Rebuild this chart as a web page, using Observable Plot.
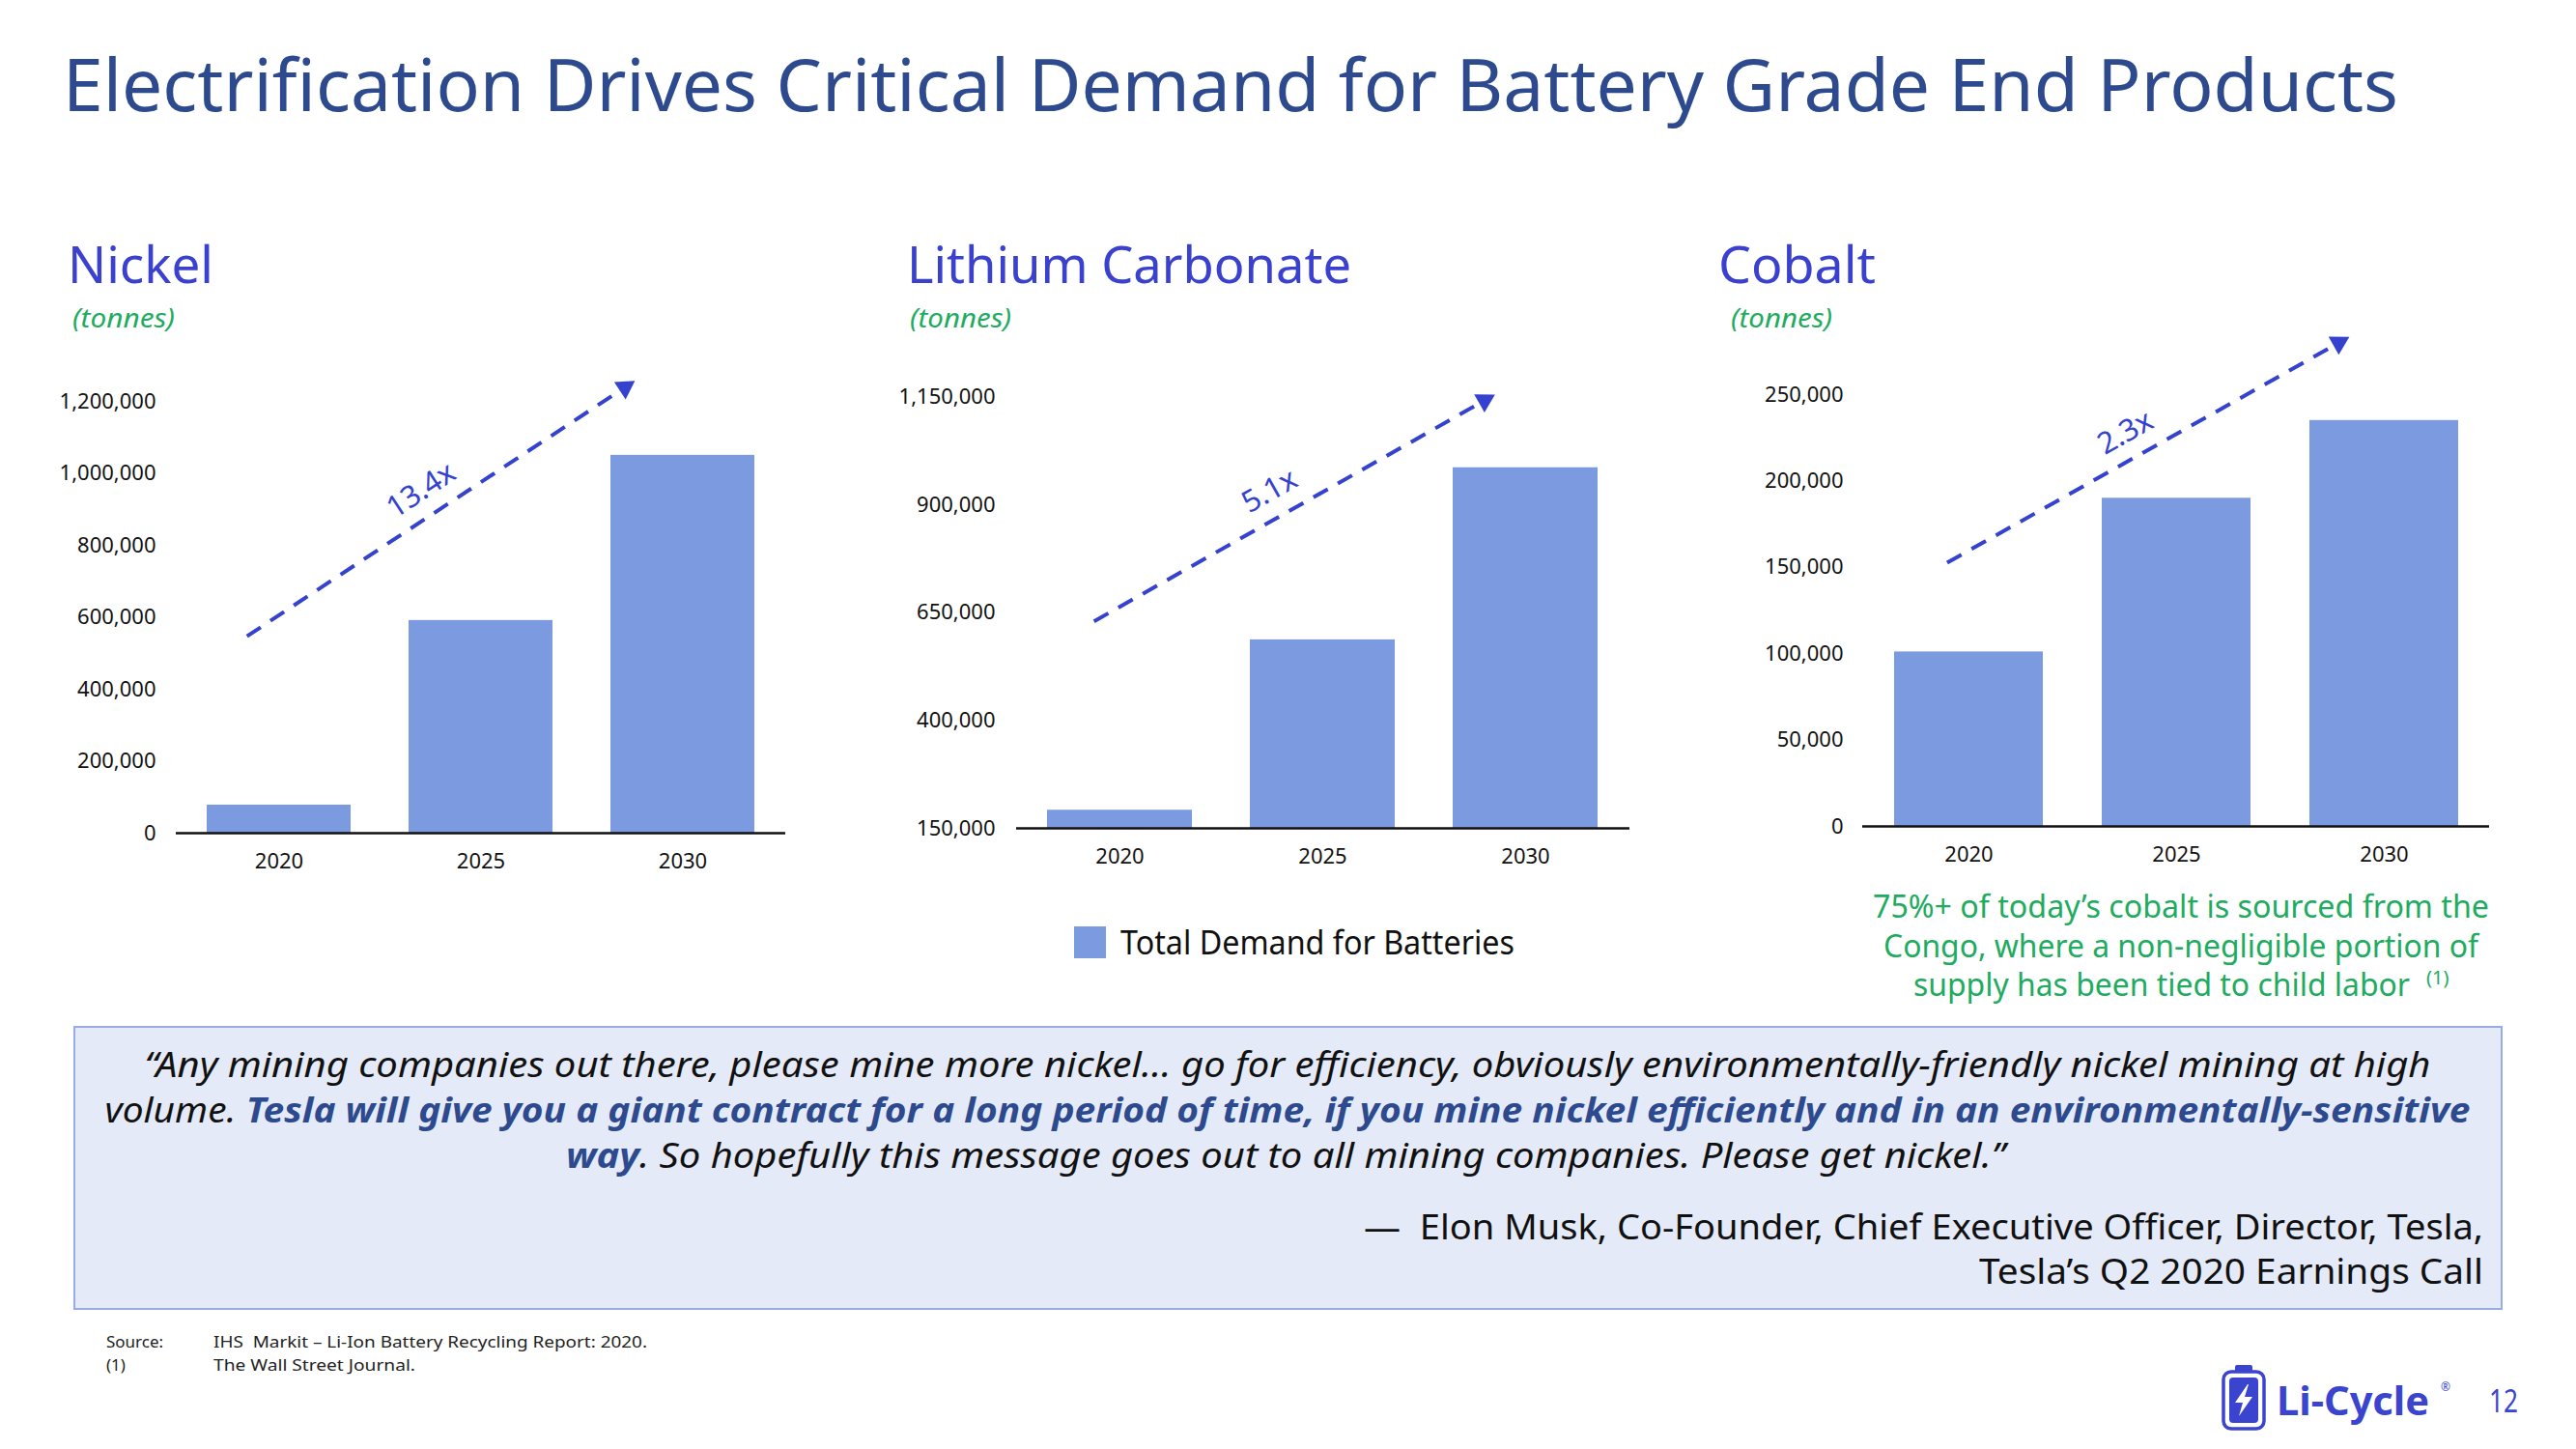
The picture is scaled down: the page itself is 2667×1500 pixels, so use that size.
<!DOCTYPE html>
<html>
<head>
<meta charset="utf-8">
<script src="https://cdn.jsdelivr.net/npm/d3@7"></script>
<script src="https://cdn.jsdelivr.net/npm/@observablehq/plot@0.6"></script>
<style>
  html, body { margin: 0; padding: 0; background: #fff; }
  #slide { position: relative; width: 2667px; height: 1500px; overflow: hidden; background: #fff; font-family: "Noto Sans", sans-serif; }
  #slide svg.bg { position: absolute; left: 0; top: 0; }
  .chart { position: absolute; }
  .chart svg { overflow: visible; }
</style>
</head>
<body>
<div id="slide"></div>
<script>
// ---------------- data ----------------
const years = ["2020", "2025", "2030"];
const nickelDemand = [78000, 591000, 1050000];
const lithiumDemand = [192000, 587000, 986000];
const cobaltDemand = [101000, 190000, 235000];

const nickelTicks = [0, 200000, 400000, 600000, 800000, 1000000, 1200000];
const lithiumTicks = [150000, 400000, 650000, 900000, 1150000];
const cobaltTicks = [0, 50000, 100000, 150000, 200000, 250000];

const growthLabels = ["13.4x", "5.1x", "2.3x"];
// dashed trend arrow: value at 2020 end, value at 2030 end, value of the label (at 2025)
const trendStart = [500000, 610000, 145000];
const trendEnd = [1239000, 1142000, 280000];
const labelValue = [953000, 932000, 228000];

const panelTitles = ["Nickel", "Lithium Carbonate", "Cobalt"];
const unitLabel = "(tonnes)";
const legendLabel = "Total Demand for Batteries";

// ---------------- colours ----------------
const barColor = "#7B9AE0";
const arrowColor = "#3442CF";
const titleColor = "#2D4A8E";
const panelColor = "#3B41CF";
const green = "#20AB5F";

const slide = d3.select("#slide");

// ---------------- charts ----------------
const charts = [
  {values: nickelDemand, ticks: nickelTicks, domain: [0, 1200000], left: 0, width: 840, mL: 182, mR: 27, mT: 35, mB: 78, pad: 21, trendDx: -60, inset: 32, angle: -33.3, labelDx: -62},
  {values: lithiumDemand, ticks: lithiumTicks, domain: [150000, 1150000], left: 880, width: 830, mL: 172, mR: 23, mT: 30.5, mB: 83, pad: 22, trendDx: -42.5, inset: 18, angle: -29.5, labelDx: -55},
  {values: cobaltDemand, ticks: cobaltTicks, domain: [0, 250000], left: 1740, width: 860, mL: 188, mR: 23, mT: 28, mB: 85, pad: 20, trendDx: -47, inset: 28, angle: -29.3, labelDx: -53}
];

charts.forEach((c, i) => {
  const data = years.map((y, j) => ({year: y, value: c.values[j]}));
  const trend = [{from: years[0], mid: years[1], to: years[2], v1: trendStart[i], v2: trendEnd[i], lv: labelValue[i], label: growthLabels[i]}];
  const plot = Plot.plot({
    width: c.width,
    height: 560,
    marginLeft: c.mL,
    marginRight: c.mR,
    marginTop: c.mT,
    marginBottom: c.mB,
    x: {domain: years, paddingInner: 0.285, paddingOuter: 0.15, label: null, tickSize: 0, tickPadding: 21},
    y: {domain: c.domain, ticks: c.ticks, tickFormat: d3.format(","), label: null, tickSize: 0, tickPadding: c.pad},
    style: {fontFamily: "'Noto Sans', sans-serif", fontSize: "22px", color: "#111", background: "transparent", overflow: "visible"},
    marks: [
      Plot.barY(data, {x: "year", y1: c.domain[0], y2: "value", fill: barColor}),
      Plot.ruleY([c.domain[0]], {stroke: "#111", strokeWidth: 2.5}),
      Plot.arrow(trend, {x1: "from", y1: "v1", x2: "to", y2: "v2", dx: c.trendDx, insetStart: c.inset, headLength: 0,
        stroke: arrowColor, strokeWidth: 4, strokeDasharray: "17,12", strokeLinecap: "butt"}),
      Plot.dot(trend, {x: "to", y: "v2", dx: c.trendDx, r: 8, symbol: "triangle", rotate: 90 + c.angle, fill: arrowColor, stroke: "none"}),
      Plot.text(trend, {x: "mid", y: "lv", dx: c.labelDx, text: "label", rotate: c.angle, fontSize: 31, fontWeight: 400,
        fontFamily: "'Noto Sans', sans-serif", fill: arrowColor})
    ]
  });
  slide.append("div").attr("class", "chart").style("left", c.left + "px").style("top", "380px").node().appendChild(plot);
});

// ---------------- slide texts & decorations ----------------
const bg = slide.insert("svg", ":first-child").attr("class", "bg").attr("width", 2667).attr("height", 1500)
  .style("font-family", "'Noto Sans', sans-serif");

function txt(x, y, s, opts = {}) {
  const t = bg.append("text").attr("x", x).attr("y", y)
    .attr("font-size", opts.size || 20)
    .attr("fill", opts.fill || "#111")
    .attr("text-anchor", opts.anchor || "start")
    .style("white-space", "pre");
  if (opts.weight) t.attr("font-weight", opts.weight);
  if (opts.italic) t.attr("font-style", "italic");
  if (opts.family) t.attr("font-family", opts.family);
  if (opts.len) t.attr("textLength", opts.len).attr("lengthAdjust", "spacingAndGlyphs");
  if (s != null) t.text(s);
  return t;
}

// main title
txt(65, 115, "Electrification Drives Critical Demand for Battery Grade End Products", {size: 74, fill: titleColor, len: 2418});

// panel titles and units
const titlePos = [[70, 151], [939, 460], [1779, 163]];
const unitPos = [[75, 106], [942, 105], [1792, 105]];
panelTitles.forEach((t, i) => {
  txt(titlePos[i][0], 293, t, {size: 52, fill: panelColor, len: titlePos[i][1]});
  txt(unitPos[i][0], 339, unitLabel, {size: 28, fill: green, italic: true, len: unitPos[i][1]});
});

// legend
bg.append("rect").attr("x", 1112).attr("y", 959).attr("width", 33).attr("height", 33).attr("fill", barColor);
txt(1160, 988, legendLabel, {size: 34, fill: "#111", len: 408});

// cobalt note
const noteLines = ["75%+ of today\u2019s cobalt is sourced from the", "Congo, where a non-negligible portion of", "supply has been tied to child labor"];
const noteBase = [950, 991, 1031];
const noteLen = [638, 616, 514];
const noteX = [2258, 2258, 2238];
noteLines.forEach((l, i) => {
  txt(noteX[i], noteBase[i], l, {size: 33, fill: green, anchor: "middle", len: noteLen[i]});
});
txt(2512, 1019, "(1)", {size: 20, fill: green});

// quote box
bg.append("rect").attr("x", 77).attr("y", 1063).attr("width", 2513).attr("height", 292)
  .attr("fill", "#E4EAF7").attr("stroke", "#98ABE3").attr("stroke-width", 2);

txt(1333, 1115, "\u201CAny mining companies out there, please mine more nickel\u2026 go for efficiency, obviously environmentally-friendly nickel mining at high",
  {size: 36, italic: true, anchor: "middle", fill: "#111", len: 2367});
const q2 = txt(1333, 1162, null, {size: 36, italic: true, anchor: "middle", fill: "#111", len: 2449});
q2.append("tspan").text("volume. ");
q2.append("tspan").attr("font-weight", 700).attr("fill", titleColor)
  .text("Tesla will give you a giant contract for a long period of time, if you mine nickel efficiently and in an environmentally-sensitive");
const q3 = txt(1331, 1209, null, {size: 36, italic: true, anchor: "middle", fill: "#111", len: 1490});
q3.append("tspan").attr("font-weight", 700).attr("fill", titleColor).text("way");
q3.append("tspan").text(". So hopefully this message goes out to all mining companies. Please get nickel.\u201D");

txt(2571, 1283, "\u2014  Elon Musk, Co-Founder, Chief Executive Officer, Director, Tesla,", {size: 37, anchor: "end", fill: "#111", len: 1159});
txt(2571, 1329, "Tesla\u2019s Q2 2020 Earnings Call", {size: 37, anchor: "end", fill: "#111", len: 522});

// footnotes
txt(110, 1395, "Source:", {size: 17, fill: "#222"});
txt(221, 1395, "IHS  Markit \u2013 Li-Ion Battery Recycling Report: 2020.", {size: 17, fill: "#222", len: 449});
txt(110, 1419, "(1)", {size: 17, fill: "#222"});
txt(221, 1419, "The Wall Street Journal.", {size: 17, fill: "#222", len: 209});

// logo
const logoColor = "#3B44CF";
const logo = bg.append("g");
logo.append("rect").attr("x", 2314).attr("y", 1413).attr("width", 18).attr("height", 9).attr("rx", 2).attr("fill", logoColor);
logo.append("rect").attr("x", 2302).attr("y", 1420).attr("width", 42).attr("height", 59).attr("rx", 8)
  .attr("fill", "#fff").attr("stroke", logoColor).attr("stroke-width", 3.5);
logo.append("rect").attr("x", 2308).attr("y", 1426).attr("width", 30).attr("height", 47).attr("rx", 4).attr("fill", logoColor);
logo.append("polygon").attr("points", "2327,1433 2314,1452 2322,1452 2318,1466 2332,1446 2324,1446 2328,1433").attr("fill", "#fff");
txt(2357, 1465, "Li-Cycle", {size: 42, weight: 700, fill: logoColor, len: 158});
txt(2527, 1440, "\u00AE", {size: 12, fill: logoColor});
txt(2577, 1462, "12", {size: 33, fill: logoColor, len: 30});
</script>
</body>
</html>
